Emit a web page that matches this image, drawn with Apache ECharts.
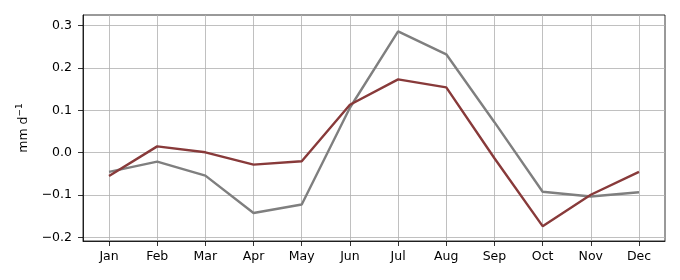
<!DOCTYPE html>
<html>
<head>
<meta charset="utf-8">
<script src="https://cdn.jsdelivr.net/npm/echarts@6/dist/echarts.min.js"></script>
<style>html,body{margin:0;padding:0;background:#fff}#c{width:680px;height:280px}</style>
</head>
<body>
<div id="c"></div>
<script>
var months = ['Jan','Feb','Mar','Apr','May','Jun','Jul','Aug','Sep','Oct','Nov','Dec'];
var grayValues = [-0.045, -0.021, -0.054, -0.142, -0.122, 0.106, 0.286, 0.232, 0.072, -0.092, -0.103, -0.093];
var redValues = [-0.055, 0.015, 0.001, -0.028, -0.020, 0.113, 0.173, 0.154, -0.013, -0.173, -0.099, -0.045];
var yTicks = [-0.2, -0.1, 0.0, 0.1, 0.2, 0.3];
var xTicks = months.map(function(m, i){ return i; });

function pairs(vals){ return vals.map(function(v, i){ return [i, v]; }); }
var font = 'DejaVu Sans';
var chart = echarts.init(document.getElementById('c'), null, {renderer: 'canvas'});
chart.setOption({
  animation: false,
  backgroundColor: '#fff',
  grid: {left: 83, right: 15, top: 15, bottom: 39, show: true, borderColor: '#000', borderWidth: 0.8, backgroundColor: 'transparent'},
  xAxis: {
    type: 'value', min: -0.54, max: 11.54,
    axisLine: {show: true, onZero: false, lineStyle: {color: '#000', width: 0.8}},
    axisTick: {show: true, length: 5, inside: false, customValues: xTicks, lineStyle: {color: '#000', width: 0.8}},
    axisLabel: {customValues: xTicks, formatter: function(v){ return months[Math.round(v)]; }, color: '#000', fontFamily: font, fontSize: 12.5, margin: 9},
    splitLine: {show: true, lineStyle: {color: '#b0b0b0', width: 0.8}}
  },
  yAxis: {
    type: 'value', min: -0.208, max: 0.3246,
    axisLine: {show: true, onZero: false, lineStyle: {color: '#000', width: 0.8}},
    axisTick: {show: true, length: 5, inside: false, customValues: yTicks, lineStyle: {color: '#000', width: 0.8}},
    axisLabel: {customValues: yTicks, formatter: function(v){ return v.toFixed(1).replace('-', '\u2212'); }, color: '#000', fontFamily: font, fontSize: 12.5, margin: 11},
    splitLine: {show: true, lineStyle: {color: '#b0b0b0', width: 0.8}},
    name: '{a|mm d}{b|\u22121}',
    nameLocation: 'middle', nameRotate: 90, nameGap: 52,
    nameTextStyle: {color: '#000', fontFamily: font, fontSize: 12.5, rich: {
      a: {fontFamily: font, fontSize: 12.5, color: '#000', verticalAlign: 'bottom', lineHeight: 16},
      b: {fontFamily: font, fontSize: 9, color: '#000', verticalAlign: 'top', lineHeight: 16}
    }}
  },
  series: [
    {type: 'line', data: pairs(grayValues), symbol: 'none', lineStyle: {color: '#7f7f7f', width: 2.4}, itemStyle: {color: '#7f7f7f'}, z: 2},
    {type: 'line', data: pairs(redValues), symbol: 'none', lineStyle: {color: '#883a3a', width: 2.4}, itemStyle: {color: '#883a3a'}, z: 3}
  ]
});
</script>
</body>
</html>
